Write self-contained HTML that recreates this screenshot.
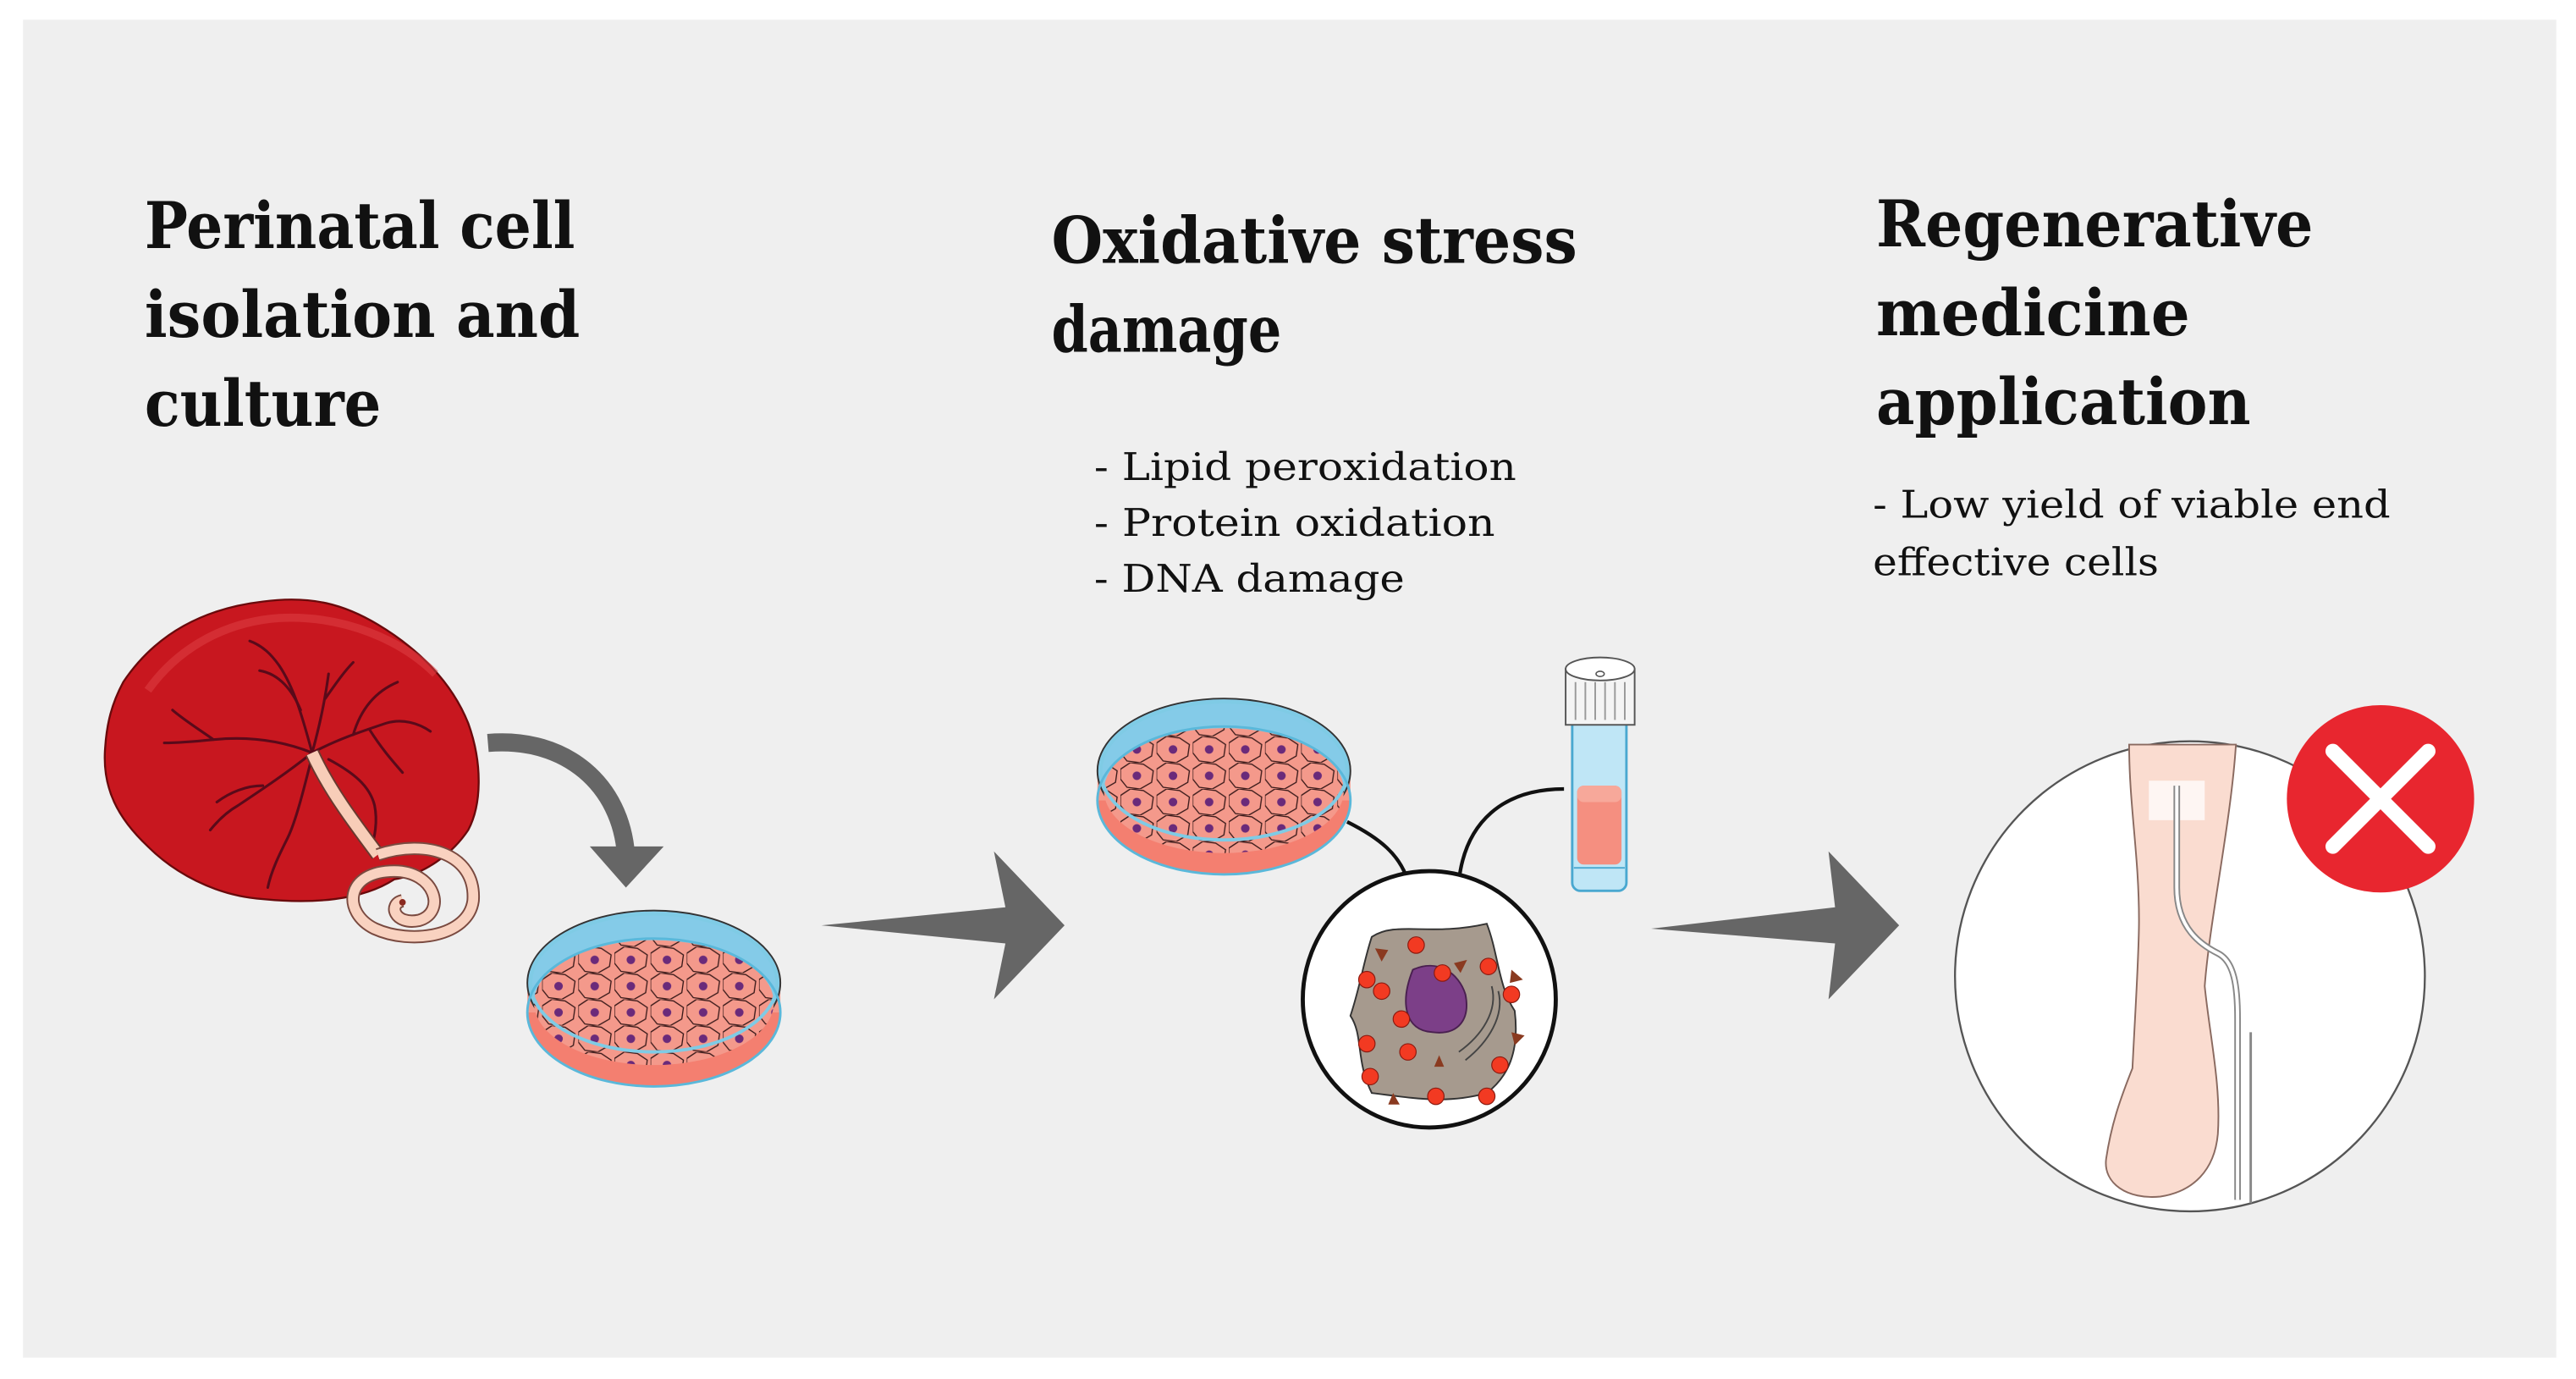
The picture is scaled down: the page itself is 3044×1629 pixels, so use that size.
<!DOCTYPE html>
<html><head><meta charset="utf-8"><style>
html,body{margin:0;padding:0;background:#fff;}
svg{display:block;}
.t{font-family:"DejaVu Serif","Liberation Serif",serif;font-weight:bold;font-size:39px;fill:#111;}
.b{font-family:"DejaVu Serif","Liberation Serif",serif;font-size:23px;fill:#111;}
</style></head><body>
<svg width="3044" height="1629" viewBox="0 0 1568 839" preserveAspectRatio="none" xmlns="http://www.w3.org/2000/svg">
<defs>
<pattern id="cells" width="22" height="16" patternUnits="userSpaceOnUse">
<rect width="22" height="16" fill="#f4998b"/>
<path d="M0,4 L6,0 L14,1 L20,5 L19,12 L12,16 L4,15 L0,10 Z" fill="none" stroke="#3a1a1a" stroke-width="0.7"/>
<circle cx="10" cy="8" r="2.6" fill="#6a2a7a"/>
</pattern>
<clipPath id="c1"><ellipse cx="398" cy="610" rx="73" ry="38"/></clipPath>
<clipPath id="c2"><ellipse cx="745" cy="481" rx="73" ry="38"/></clipPath>
</defs>
<rect x="0" y="0" width="1568" height="839" fill="#fff"/>
<rect x="14" y="12" width="1542" height="814" fill="#efefef"/>

<text class="t" x="88" y="151" textLength="262" lengthAdjust="spacingAndGlyphs">Perinatal cell</text>
<text class="t" x="88" y="205" textLength="265" lengthAdjust="spacingAndGlyphs">isolation and</text>
<text class="t" x="88" y="259" textLength="144" lengthAdjust="spacingAndGlyphs">culture</text>

<text class="t" x="640" y="160" textLength="320" lengthAdjust="spacingAndGlyphs">Oxidative stress</text>
<text class="t" x="640" y="214" textLength="140" lengthAdjust="spacingAndGlyphs">damage</text>
<text class="b" x="666" y="292" textLength="257" lengthAdjust="spacingAndGlyphs">- Lipid peroxidation</text>
<text class="b" x="666" y="326" textLength="244" lengthAdjust="spacingAndGlyphs">- Protein oxidation</text>
<text class="b" x="666" y="360" textLength="189" lengthAdjust="spacingAndGlyphs">- DNA damage</text>

<text class="t" x="1142" y="150" textLength="266" lengthAdjust="spacingAndGlyphs">Regenerative</text>
<text class="t" x="1142" y="204" textLength="191" lengthAdjust="spacingAndGlyphs">medicine</text>
<text class="t" x="1142" y="258" textLength="228" lengthAdjust="spacingAndGlyphs">application</text>
<text class="b" x="1140" y="315" textLength="315" lengthAdjust="spacingAndGlyphs">- Low yield of viable end</text>
<text class="b" x="1140" y="350" textLength="174" lengthAdjust="spacingAndGlyphs">effective cells</text>

<polygon points="500,563 612,552 605,518 648,563 605,608 612,574" fill="#666"/>
<polygon points="1005,565 1117,552 1113,518 1156,563 1113,608 1117,574" fill="#666"/>

<!-- placenta -->
<path d="M75,415 C95,385 125,370 160,366 C190,362 210,368 230,380 C255,395 275,415 285,440 C294,465 293,490 285,505 C275,520 258,532 240,535 C220,548 190,550 160,547 C130,545 105,530 90,515 C72,498 62,480 64,455 C65,440 68,428 75,415 Z" fill="#c8171f" stroke="#6a0a0c" stroke-width="1.2"/>
<path d="M90,420 C110,392 140,378 170,376 C210,374 245,390 265,410" fill="none" stroke="#e04448" stroke-width="5" opacity="0.5"/>
<g fill="none" stroke="#5a0a1a" stroke-width="1.6" stroke-linecap="round">
<path d="M190,458 C185,440 180,420 170,405 C165,398 160,393 152,390"/>
<path d="M183,432 C178,420 170,410 158,408"/>
<path d="M190,458 C195,440 198,425 200,410 M198,425 C205,415 210,408 215,403"/>
<path d="M190,458 C170,450 150,448 130,450 C120,451 110,452 100,452 M130,450 C120,443 112,438 105,432"/>
<path d="M190,458 C175,470 160,480 145,490 C138,494 132,500 128,505 M160,478 C150,478 140,482 132,488"/>
<path d="M190,460 C185,480 180,500 175,510 C170,520 165,530 163,540"/>
<path d="M190,458 C205,450 220,445 235,440 C245,437 255,440 262,445 M225,444 C232,455 238,462 245,470 M215,447 C220,430 230,420 242,415"/>
<path d="M200,462 C215,470 225,478 228,490 C230,500 228,510 226,515"/>
</g>
<path d="M190,458 C200,480 215,500 230,520" fill="none" stroke="#6a3a30" stroke-width="9"/>
<path d="M190,458 C200,480 215,500 230,520" fill="none" stroke="#f8cdb8" stroke-width="7"/>
<g fill="none" stroke="#7a4a40" stroke-width="8">
<path d="M230,520 C260,510 290,520 288,548 C285,570 250,575 228,565 C208,555 210,530 240,530 C265,530 272,555 255,560 C240,563 236,550 245,548"/>
</g>
<g fill="none" stroke="#f9d2c0" stroke-width="6">
<path d="M230,520 C260,510 290,520 288,548 C285,570 250,575 228,565 C208,555 210,530 240,530 C265,530 272,555 255,560 C240,563 236,550 245,548"/>
</g>
<circle cx="245" cy="549" r="2" fill="#8a2a20"/>

<path d="M297,452 C345,448 378,478 381,520" fill="none" stroke="#666" stroke-width="11"/>
<polygon points="359,515 404,515 381,540" fill="#666"/>

<!-- dish 1 -->
<ellipse cx="398" cy="616" rx="77" ry="45" fill="#f47f70" stroke="#333" stroke-width="1"/>
<rect x="321" y="598" width="154" height="18" fill="#f4998b"/>
<ellipse cx="398" cy="598" rx="77" ry="44" fill="#84cbe8" stroke="#333" stroke-width="1"/>
<rect x="320" y="560" width="160" height="100" fill="url(#cells)" clip-path="url(#c1)"/>
<ellipse cx="398" cy="598" rx="75" ry="42" fill="none" stroke="#7fcbe5" stroke-width="2"/>
<ellipse cx="398" cy="616" rx="77" ry="45" fill="none" stroke="#5ab8da" stroke-width="1.5"/>

<!-- dish 2 -->
<ellipse cx="745" cy="487" rx="77" ry="45" fill="#f47f70" stroke="#333" stroke-width="1"/>
<rect x="668" y="469" width="154" height="18" fill="#f4998b"/>
<ellipse cx="745" cy="469" rx="77" ry="44" fill="#84cbe8" stroke="#333" stroke-width="1"/>
<rect x="667" y="430" width="160" height="100" fill="url(#cells)" clip-path="url(#c2)"/>
<ellipse cx="745" cy="469" rx="75" ry="42" fill="none" stroke="#7fcbe5" stroke-width="2"/>
<ellipse cx="745" cy="487" rx="77" ry="45" fill="none" stroke="#5ab8da" stroke-width="1.5"/>

<path d="M820,500 C840,510 852,520 857,536" fill="none" stroke="#111" stroke-width="2.2"/>
<path d="M952,480 C915,480 892,500 888,536" fill="none" stroke="#111" stroke-width="2.2"/>

<!-- tube -->
<rect x="957" y="435" width="33" height="107" rx="5" fill="#bfe6f6" stroke="#4aa8d0" stroke-width="1.5"/>
<rect x="960" y="478" width="27" height="48" rx="4" fill="#f58f80"/>
<rect x="960" y="478" width="27" height="10" rx="4" fill="#f7a89a"/>
<line x1="958" y1="528" x2="989" y2="528" stroke="#4aa8d0" stroke-width="1"/>
<rect x="953" y="407" width="42" height="34" fill="#f4f4f4" stroke="#555" stroke-width="1"/>
<g stroke="#999" stroke-width="1"><line x1="959" y1="415" x2="959" y2="438"/><line x1="965" y1="415" x2="965" y2="438"/><line x1="971" y1="415" x2="971" y2="438"/><line x1="977" y1="415" x2="977" y2="438"/><line x1="983" y1="415" x2="983" y2="438"/><line x1="989" y1="415" x2="989" y2="438"/></g>
<ellipse cx="974" cy="407" rx="21" ry="7" fill="#fff" stroke="#555" stroke-width="1"/>
<ellipse cx="974" cy="410" rx="2.5" ry="1.6" fill="none" stroke="#555" stroke-width="0.8"/>

<!-- cell circle -->
<ellipse cx="870" cy="608" rx="77" ry="78" fill="#fff" stroke="#111" stroke-width="2.5"/>
<path d="M835,570 C850,560 870,570 905,562 C912,580 912,600 922,615 C925,640 918,655 905,665 C880,672 860,668 835,665 C825,645 830,630 822,618 C828,600 830,585 835,570 Z" fill="#a69a8e" stroke="#333" stroke-width="1"/>
<path d="M860,590 C875,583 888,592 892,605 C895,620 888,630 872,628 C855,627 852,610 860,590 Z" fill="#7c3f88" stroke="#4a2050" stroke-width="1"/>
<g fill="none" stroke="#444" stroke-width="1"><path d="M888,640 C902,630 912,615 908,600"/><path d="M892,645 C906,634 916,618 912,603"/></g>
<g fill="#f23a22" stroke="#8a1a10" stroke-width="0.6">
<circle cx="862" cy="575" r="5"/><circle cx="878" cy="592" r="5"/><circle cx="906" cy="588" r="5"/><circle cx="841" cy="603" r="5"/>
<circle cx="832" cy="596" r="5"/><circle cx="920" cy="605" r="5"/><circle cx="853" cy="620" r="5"/><circle cx="857" cy="640" r="5"/>
<circle cx="834" cy="655" r="5"/><circle cx="874" cy="667" r="5"/><circle cx="905" cy="667" r="5"/><circle cx="913" cy="648" r="5"/><circle cx="832" cy="635" r="5"/>
</g>
<g fill="#8a3a20"><polygon points="837,577 845,578 841,585"/><polygon points="885,586 893,584 889,592"/><polygon points="920,590 927,596 919,598"/><polygon points="845,672 852,672 848,665"/><polygon points="873,649 879,649 876,642"/><polygon points="920,628 928,630 922,636"/></g>

<!-- arm circle -->
<circle cx="1333" cy="594" r="143" fill="#fff" stroke="#555" stroke-width="1.2"/>
<path d="M1296,453 L1361,453 C1358,500 1345,560 1342,600 C1345,630 1352,660 1350,690 C1348,712 1335,725 1315,728 C1295,730 1280,720 1282,705 C1285,685 1290,670 1298,650 C1300,610 1302,580 1302,560 C1302,520 1296,490 1296,453 Z" fill="#fadcd0" stroke="#8a6a60" stroke-width="1"/>
<rect x="1308" y="475" width="34" height="24" fill="#fff" opacity="0.75"/>
<path d="M1325,478 L1325,540 C1325,565 1340,575 1350,580 C1360,585 1362,600 1362,620 L1362,730" fill="none" stroke="#888" stroke-width="4"/>
<path d="M1325,478 L1325,540 C1325,565 1340,575 1350,580 C1360,585 1362,600 1362,620 L1362,730" fill="none" stroke="#fff" stroke-width="2"/>
<line x1="1370" y1="628" x2="1370" y2="732" stroke="#888" stroke-width="1.5"/>

<circle cx="1449" cy="486" r="57" fill="#e8262f"/>
<g stroke="#fff" stroke-width="9" stroke-linecap="round"><line x1="1420" y1="457" x2="1478" y2="515"/><line x1="1478" y1="457" x2="1420" y2="515"/></g>
</svg>
</body></html>
